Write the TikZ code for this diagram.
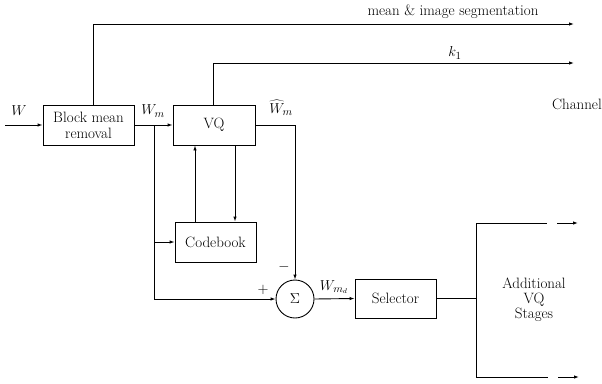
\documentclass[tikz,border=0pt]{standalone}
\usetikzlibrary{arrows.meta,calc}
\begin{document}
\begin{tikzpicture}[x=1pt,y=-1pt,
  every node/.style={font=\fontsize{15}{16}\selectfont},
  blk/.style={draw,line width=0.9pt,minimum width=#1,minimum height=40pt,inner sep=1pt,align=center},
  wire/.style={line width=0.9pt},
  arr/.style={line width=0.9pt,-{Latex[length=5pt,width=3.5pt]}},
  lbl/.style={inner sep=0pt}]
\useasboundingbox (0,0) rectangle (602,383);
% blocks
\node[blk=91pt] (bmr) at (88.5,125) {Block mean\\removal};
\node[blk=82pt] (vq) at (214,125) {VQ};
\node[blk=81pt] (cb) at (215.5,242) {Codebook};
\node[draw,circle,line width=0.9pt,minimum size=38pt,inner sep=0pt] (sig) at (295,299) {$\Sigma$};
\node[blk=81pt,minimum height=39pt] (sel) at (395.5,298.5) {Selector};
\node[align=center,inner sep=0pt] (add) at (534,300) {Additional\\[-1pt]VQ\\[-1pt]Stages};
% free ends
\coordinate (in) at (5,125);
\coordinate (mtop) at (93,24);
\coordinate (mend) at (574,24);
\coordinate (ktop) at (213,63);
\coordinate (kend) at (574,63);
\coordinate (br) at (154,125);
\coordinate (brcb) at (154,242);
\coordinate (brsig) at (154,299);
\coordinate (wh) at (295,125);
\coordinate (bus) at (476,298.5);
\coordinate (bustop) at (476,223);
\coordinate (busbot) at (476,377);
\coordinate (t1) at (547,223);
\coordinate (t2) at (557,223);
\coordinate (t3) at (578,223);
\coordinate (b1) at (548,377);
\coordinate (b2) at (558,377);
\coordinate (b3) at (579,377);
% connectors
\draw[arr] (in) -- (bmr.west);
\draw[arr] (mtop |- bmr.north) -- (mtop) -- (mend);
\draw[arr] (ktop |- vq.north) -- (ktop) -- (kend);
\draw[arr] (bmr.east) -- (vq.west);
\draw[wire] (br) -- (brsig);
\draw[arr] (brsig) -- (sig.west);
\draw[arr] (brcb) -- (cb.west);
\draw[arr] (cb.north -| 195,0) -- (vq.south -| 195,0);
\draw[arr] (vq.south -| 235,0) -- (cb.north -| 235,0);
\draw[wire] (vq.east) -- (wh);
\draw[arr] (wh) -- (sig.north);
\draw[arr] (sig.east) -- (sel.west);
\draw[wire] (sel.east) -- (bus);
\draw[wire] (bustop) -- (busbot);
\draw[wire] (bustop) -- (t1);
\draw[arr] (t2) -- (t3);
\draw[wire] (busbot) -- (b1);
\draw[arr] (b2) -- (b3);
% labels
\node[lbl] (lW) at (19,111) {$W$};
\node[lbl] (lWm) at (153,111) {$W_m$};
\node[lbl] (lWh) at (281,108) {$\widehat{W}_m$};
\node[lbl] (lmean) at (453,12) {mean \& image segmentation};
\node[lbl] (lk) at (455,53) {$k_1$};
\node[lbl,anchor=east] (lch) at (602,104) {Channel};
\node[lbl] (lp) at (263,290) {$+$};
\node[lbl] (lm) at (284,267) {$-$};
\node[lbl] (lWmd) at (334,287) {$W_{m_d}$};
\end{tikzpicture}
\end{document}
